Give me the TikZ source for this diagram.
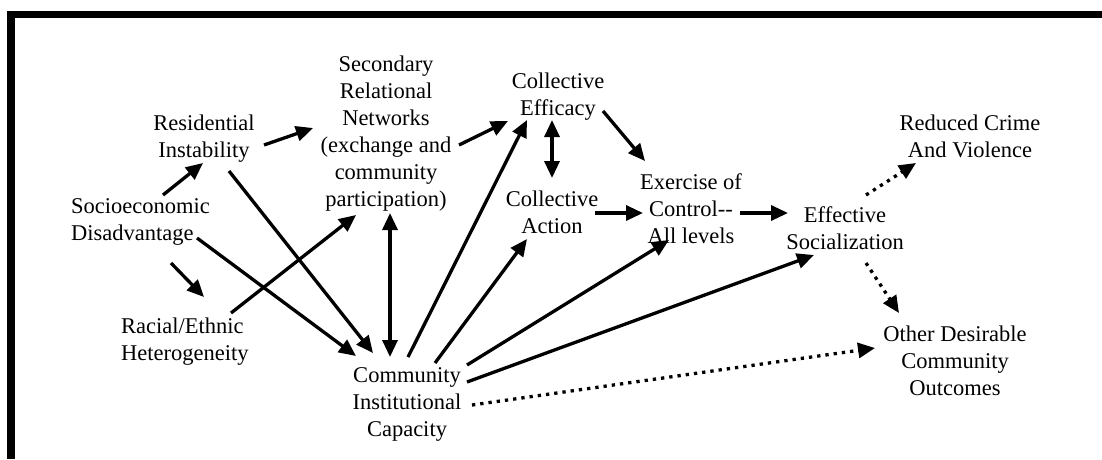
\documentclass[tikz,border=0pt]{standalone}
\usepackage{fontspec}
\setmainfont{Liberation Serif}
\usetikzlibrary{arrows.meta}
\begin{document}
\begin{tikzpicture}[x=1pt,y=-1pt,
  lbl/.style={inner sep=0pt, font=\fontsize{22.5}{27}\selectfont, align=center, anchor=north},
  lbll/.style={lbl, align=left, anchor=north west},
  tip/.tip={Triangle[length=17pt,width=15pt]},
  arr/.style={line width=3.3pt, -tip},
  dbl/.style={line width=3.3pt, tip-tip},
  dotarr/.style={arr, dash pattern=on 3.3pt off 5pt}]
\useasboundingbox (0,0) rectangle (1102,459);
% frame
\fill[black] (7,11) rectangle (1102,18.3);
\fill[black] (7,11) rectangle (15,459);
% nodes
\node[lbl] (sec) at (386,55.6) {Secondary\\Relational\\Networks\\(exchange and\\community\\participation)};
\node[lbl] (res) at (204,114.6) {Residential\\Instability};
\node[lbll] (soc) at (71,198.6) {Socioeconomic\\Disadvantage};
\node[lbll] (rac) at (121,317.6) {Racial/Ethnic\\Heterogeneity};
\node[lbl] (cic) at (407,367.6) {Community\\Institutional\\Capacity};
\node[lbl] (ce) at (558,72.6) {Collective\\Efficacy};
\node[lbl] (ca) at (552,190.6) {Collective\\Action};
\node[lbl] (ex) at (691,173.6) {Exercise of\\Control-{}-\\All levels};
\node[lbl] (es) at (845,206.6) {Effective\\Socialization};
\node[lbl] (rc) at (970,114.6) {Reduced Crime\\And Violence};
\node[lbl] (od) at (955,325.6) {Other Desirable\\Community\\Outcomes};
% connectors
\draw[arr] ([shift={(60,30.4)}]res.north) -- ([shift={(-73,72.4)}]sec.north);
\draw[arr] ([shift={(92,-3.6)}]soc.north west) -- ([shift={(-1,48.4)}]res.north);
\draw[arr] ([shift={(100,64.4)}]soc.north west) -- ([shift={(83,-20.6)}]rac.north west);
\draw[arr] ([shift={(126,39.4)}]soc.north west) -- ([shift={(-51,-11.6)}]cic.north);
\draw[arr] ([shift={(25,56.4)}]res.north) -- ([shift={(-34,-14.6)}]cic.north);
\draw[arr] ([shift={(110,-4.6)}]rac.north west) -- ([shift={(-30,159.4)}]sec.north);
\draw[dbl] ([shift={(4,157.4)}]sec.north) -- ([shift={(-17,-10.6)}]cic.north);
\draw[arr] ([shift={(1,-10.6)}]cic.north) -- ([shift={(-31,47.4)}]ce.north);
\draw[arr] ([shift={(28,-4.6)}]cic.north) -- ([shift={(-25,48.4)}]ca.north);
\draw[arr] ([shift={(73,89.4)}]sec.north) -- ([shift={(-50,48.4)}]ce.north);
\draw[dbl] ([shift={(-6,47.4)}]ce.north) -- ([shift={(0,-12.6)}]ca.north);
\draw[arr] ([shift={(45,38.4)}]ce.north) -- ([shift={(-46,-12.6)}]ex.north);
\draw[arr] ([shift={(43,22.4)}]ca.north) -- ([shift={(-48,39.4)}]ex.north);
\draw[arr] ([shift={(60,-2.6)}]cic.north) -- ([shift={(-22,66.4)}]ex.north);
\draw[arr] ([shift={(49,39.4)}]ex.north) -- ([shift={(-57,6.4)}]es.north);
\draw[arr] ([shift={(60,14.4)}]cic.north) -- ([shift={(-31,48.4)}]es.north);
\draw[dotarr] ([shift={(65,37.4)}]cic.north) -- ([shift={(-80,22.4)}]od.north);
\draw[dotarr] ([shift={(21,-11.6)}]es.north) -- ([shift={(-54,48.4)}]rc.north);
\draw[dotarr] ([shift={(21,56.4)}]es.north) -- ([shift={(-56,-12.6)}]od.north);
\end{tikzpicture}
\end{document}
